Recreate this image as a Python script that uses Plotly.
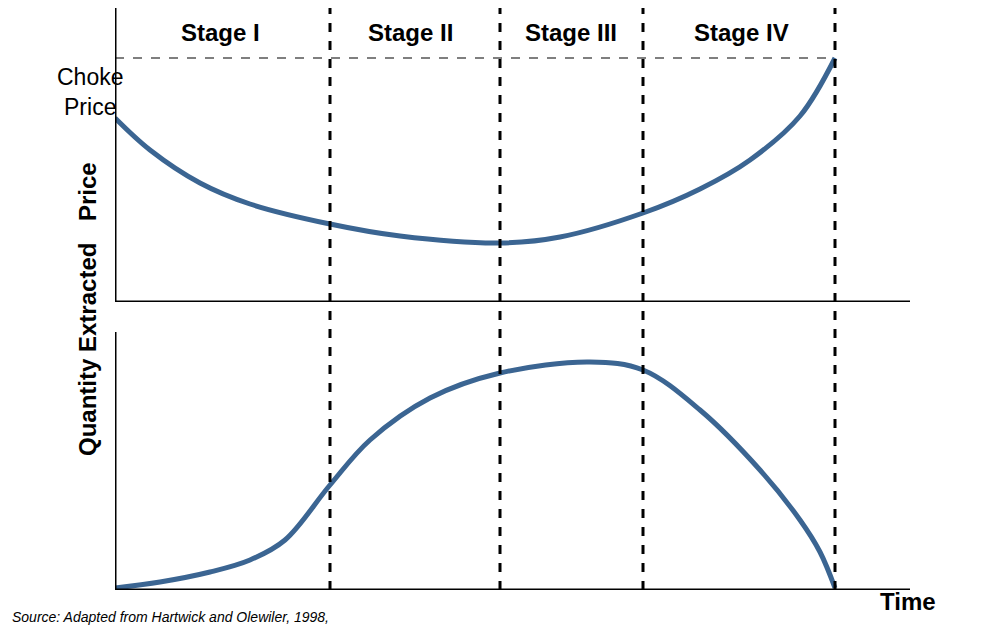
import plotly.graph_objects as go

stage_x = [330, 500, 643, 835]
stage_labels = ["Stage I", "Stage II", "Stage III", "Stage IV"]
stage_label_x = [220, 410, 571, 741]

price_t = [115, 150, 200, 250, 330, 400, 500, 560, 643, 700, 750, 800, 835]
price_v = [118, 150, 183, 204, 224, 236, 243, 237, 213, 189, 160, 116, 58]
choke = 58

qty_t = [115, 160, 210, 250, 285, 330, 370, 430, 500, 590, 643, 700, 760, 800, 820, 835]
qty_v = [588, 582, 572, 560, 540, 485, 440, 398, 373, 362, 370, 410, 470, 520, 552, 588]

OFF = 8
L, R, T, B = 115 - OFF, 80, 0, 58
W, H = 982, 640
PW, PH = W - L - R, H - T - B

def px(sx):
    return (sx - OFF - L) / PW

def py(sy):
    return 1 - (sy - OFF - T) / PH

col = "#3B6592"
fig = go.Figure()
fig.add_trace(go.Scatter(x=price_t, y=price_v, mode="lines", line=dict(color=col, width=5, shape="spline"), xaxis="x", yaxis="y"))
fig.add_trace(go.Scatter(x=qty_t, y=qty_v, mode="lines", line=dict(color=col, width=5, shape="spline"), xaxis="x2", yaxis="y2"))

ax = dict(showgrid=False, zeroline=False, showticklabels=False, ticks="", range=[115, 910], showline=False)
fig.update_layout(
    width=W, height=H, margin=dict(l=L, r=R, t=T, b=B),
    plot_bgcolor="white", paper_bgcolor="white", showlegend=False,
    xaxis=dict(**ax, anchor="y"), xaxis2=dict(**ax, anchor="y2"),
    yaxis=dict(showgrid=False, zeroline=False, showticklabels=False, range=[302, 8], domain=[py(302), py(8)]),
    yaxis2=dict(showgrid=False, zeroline=False, showticklabels=False, range=[590, 332], domain=[py(590), py(332)]),
    font=dict(family="Liberation Sans, Arial", color="black"),
)
k = dict(color="black", width=3)
fig.add_shape(type="line", xref="x", yref="y", x0=115, x1=115, y0=8, y1=302, line=k)
fig.add_shape(type="line", xref="x", yref="y", x0=115, x1=910, y0=302, y1=302, line=k)
fig.add_shape(type="line", xref="x2", yref="y2", x0=115, x1=115, y0=332, y1=590, line=k)
fig.add_shape(type="line", xref="x2", yref="y2", x0=115, x1=910, y0=590, y1=590, line=k)
for sx in stage_x:
    fig.add_shape(type="line", xref="x", yref="paper", x0=sx, x1=sx, y0=py(590), y1=py(8), line=dict(color="black", width=3, dash="dash"))
fig.add_shape(type="line", xref="x", yref="y", x0=115, x1=835, y0=choke, y1=choke, line=dict(color="black", width=1.2, dash="dash"))
for lx, lab in zip(stage_label_x, stage_labels):
    fig.add_annotation(x=lx, y=32, xref="x", yref="y", text="<b>%s</b>" % lab, showarrow=False, font=dict(size=24))
fig.add_annotation(x=px(55), y=py(62), xref="paper", yref="paper", text="Choke<br>Price", showarrow=False, font=dict(size=23), align="center")
fig.add_annotation(x=px(72), y=py(160), xref="paper", yref="paper", text="<b>Price</b>", textangle=-90, showarrow=False, font=dict(size=24))
fig.add_annotation(x=px(72), y=py(458), xref="paper", yref="paper", text="<b>Quantity Extracted</b>", textangle=-90, showarrow=False, font=dict(size=24))
fig.add_annotation(x=px(938), y=py(617), xref="paper", yref="paper", text="<b>Time</b>", showarrow=False, font=dict(size=24))
fig.add_annotation(x=px(10), y=py(627), xref="paper", yref="paper", text="<i>Source: Adapted from Hartwick and Olewiler, 1998,</i>", showarrow=False, xanchor="left", font=dict(size=14))
fig.write_html("out.html")
